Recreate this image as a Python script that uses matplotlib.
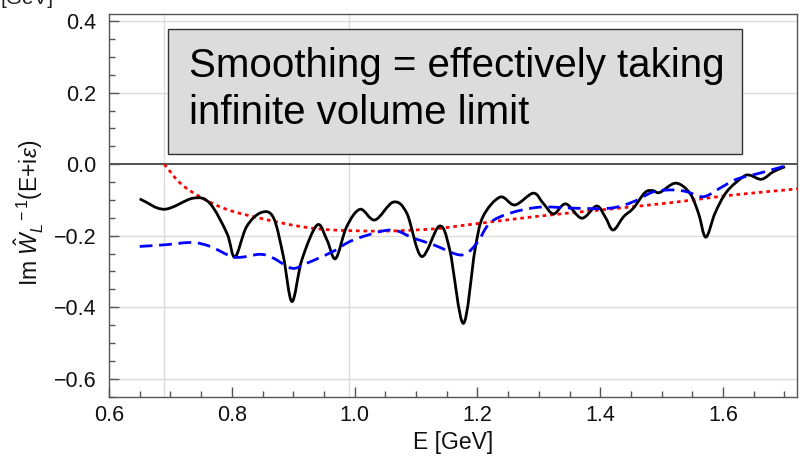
import numpy as np
import matplotlib
matplotlib.use("Agg")
import matplotlib.pyplot as plt
from matplotlib.path import Path
from matplotlib.patches import PathPatch, Rectangle
from matplotlib.ticker import MultipleLocator, FixedLocator

plt.rcParams["font.family"] = ["Liberation Sans", "DejaVu Sans"]
plt.rcParams["mathtext.fontset"] = "custom"
plt.rcParams["mathtext.rm"] = "Liberation Sans"
plt.rcParams["mathtext.it"] = "Liberation Sans:italic"
plt.rcParams["mathtext.bf"] = "Liberation Sans:bold"

# Finite-volume result (solid black)
black_E = [0.650, 0.690, 0.737, 0.764, 0.792, 0.805, 0.824, 0.848, 0.868, 0.884,
           0.898, 0.914, 0.939, 0.955, 0.969, 0.987, 1.009, 1.033, 1.063, 1.085,
           1.109, 1.138, 1.155, 1.177, 1.196, 1.209, 1.237, 1.261, 1.291, 1.307,
           1.324, 1.344, 1.370, 1.394, 1.408, 1.421, 1.438, 1.454, 1.473, 1.486,
           1.497, 1.523, 1.546, 1.560, 1.572, 1.587, 1.606, 1.633, 1.644, 1.663,
           1.682, 1.701]
black_v = [-0.097, -0.126, -0.095, -0.109, -0.193, -0.260, -0.175, -0.135, -0.150, -0.258,
           -0.384, -0.268, -0.170, -0.212, -0.264, -0.175, -0.126, -0.156, -0.106, -0.137,
           -0.258, -0.173, -0.240, -0.445, -0.240, -0.147, -0.092, -0.114, -0.081, -0.109,
           -0.139, -0.111, -0.151, -0.117, -0.147, -0.184, -0.147, -0.123, -0.079, -0.074,
           -0.079, -0.053, -0.081, -0.137, -0.204, -0.137, -0.077, -0.035, -0.031, -0.042,
           -0.021, -0.007]

# Smoothed result (dashed blue)
blue_E = [0.650, 0.694, 0.735, 0.765, 0.805, 0.846, 0.868, 0.898, 0.922, 0.965,
          0.998, 1.058, 1.096, 1.128, 1.174, 1.199, 1.220, 1.253, 1.302, 1.356,
          1.416, 1.454, 1.487, 1.519, 1.541, 1.568, 1.595, 1.622, 1.660, 1.701]
blue_v = [-0.230, -0.225, -0.219, -0.230, -0.260, -0.252, -0.263, -0.291, -0.277, -0.244,
          -0.212, -0.184, -0.207, -0.225, -0.254, -0.221, -0.165, -0.137, -0.120, -0.123,
          -0.123, -0.105, -0.077, -0.072, -0.077, -0.091, -0.067, -0.042, -0.025, -0.005]

# Infinite-volume reference (dotted red)
red_E = [0.690, 0.716, 0.748, 0.791, 0.846, 0.911, 0.965, 1.047, 1.128, 1.182,
         1.291, 1.400, 1.508, 1.617, 1.722]
red_v = [0.0, -0.053, -0.091, -0.126, -0.151, -0.174, -0.184, -0.187, -0.181, -0.170,
         -0.147, -0.128, -0.109, -0.086, -0.069]

x_ticks = [0.6, 0.8, 1.0, 1.2, 1.4, 1.6]
y_ticks = [-0.6, -0.4, -0.2, 0.0, 0.2, 0.4]
thresholds = [0.6896, 0.991]

box_lines = ["Smoothing = effectively taking", "infinite volume limit"]


def smooth_path(xs, ys):
    """Catmull-Rom curve through the points, as cubic Bezier segments."""
    p = np.column_stack([xs, ys]).astype(float)
    ext = np.vstack([2 * p[0] - p[1], p, 2 * p[-1] - p[-2]])
    verts = [tuple(p[0])]
    codes = [Path.MOVETO]
    for i in range(1, len(ext) - 2):
        p0, p1, p2, p3 = ext[i - 1], ext[i], ext[i + 1], ext[i + 2]
        c1 = p1 + (p2 - p0) / 6.0
        c2 = p2 - (p3 - p1) / 6.0
        verts += [tuple(c1), tuple(c2), tuple(p2)]
        codes += [Path.CURVE4] * 3
    return Path(verts, codes)


fig = plt.figure(figsize=(8.06, 4.62), dpi=100)
ax = fig.add_axes([109 / 806, 65 / 462, 688 / 806, 383 / 462])

ax.set_xlim(0.6, 1.7205)
ax.set_ylim(-0.651, 0.420)

grid_c = "#dcdcdc"
for yv in y_ticks:
    if yv != 0.0:
        ax.axhline(yv, color=grid_c, lw=1.0, zorder=0)
for xv in thresholds:
    ax.axvline(xv, color=grid_c, lw=1.0, zorder=0)
ax.axhline(0.0, color="#222222", lw=1.1, zorder=1)

ax.add_patch(PathPatch(smooth_path(black_E, black_v), fill=False, edgecolor="black",
                       lw=2.0, transform=ax.transData, zorder=4, clip_on=True))
ax.add_patch(PathPatch(smooth_path(blue_E, blue_v), fill=False, edgecolor="#0000ff",
                       lw=2.0, linestyle=(0, (4.6, 2.4)), capstyle="butt",
                       transform=ax.transData, zorder=5))
ax.add_patch(PathPatch(smooth_path(red_E, red_v), fill=False, edgecolor="#ff0000",
                       lw=2.0, linestyle=(0, (1.3, 1.4)), capstyle="butt",
                       transform=ax.transData, zorder=3))

# ticks and frame
frame_c = "#555555"
for s in ax.spines.values():
    s.set_color(frame_c)
    s.set_linewidth(1.0)
ax.xaxis.set_major_locator(FixedLocator(x_ticks))
ax.yaxis.set_major_locator(FixedLocator(y_ticks))
ax.xaxis.set_minor_locator(MultipleLocator(0.05))
ax.yaxis.set_minor_locator(MultipleLocator(0.05))
ax.set_xticklabels([f"{v:.1f}" for v in x_ticks])
ax.set_yticklabels([f"{v:.1f}".replace("-", "\u2212") for v in y_ticks])
ax.tick_params(which="both", direction="in", color=frame_c, width=1.0,
               top=False, right=False, labelsize=15.5, labelcolor="#111111")
ax.tick_params(which="major", length=7)
ax.tick_params(which="minor", length=4)
ax.tick_params(axis="x", which="major", pad=6)
ax.tick_params(axis="y", which="major", pad=9)

ax.set_xlabel("E [GeV]", fontsize=16.5, color="#111111")
ax.xaxis.set_label_coords(0.5, -0.088)
ax.set_ylabel(r"Im $\hat{W}_{L}^{\ \ -1}$(E+i$\epsilon$)", fontsize=16.5, color="#111111")
ax.yaxis.set_label_coords(-0.092, 0.48)

# annotation box
ax.add_patch(Rectangle((0.0858, 0.6345), 0.834, 0.326, transform=ax.transAxes,
                       facecolor="#dcdcdc", edgecolor="#333333", lw=1.0, zorder=6))
ax.text(0.1163, 0.8355, box_lines[0], transform=ax.transAxes, fontsize=29,
        va="baseline", ha="left", color="black", zorder=7)
ax.text(0.1163, 0.7128, box_lines[1], transform=ax.transAxes, fontsize=29,
        va="baseline", ha="left", color="black", zorder=7)

fig.text(0.0, 1 - 4 / 462, "[GeV]", fontsize=15, va="baseline", ha="left",
         color="#222222")

fig.savefig("out.png", dpi=100)
